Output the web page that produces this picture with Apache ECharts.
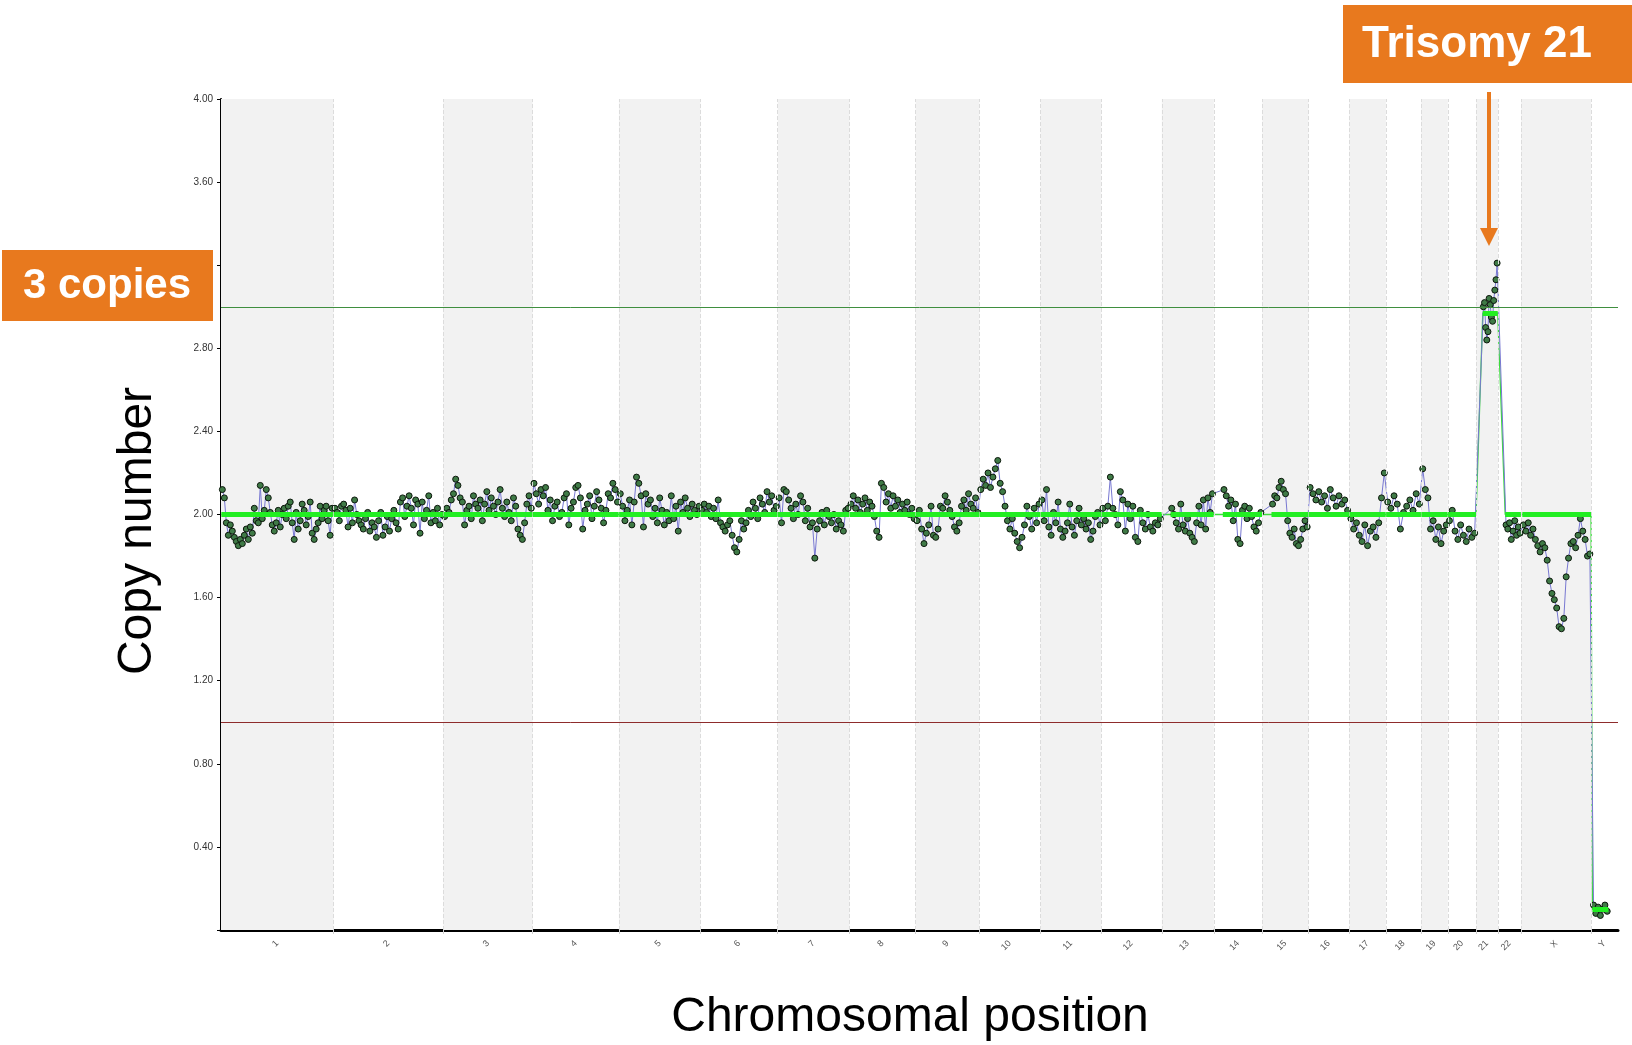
<!DOCTYPE html>
<html>
<head>
<meta charset="utf-8">
<script src="https://cdn.jsdelivr.net/npm/echarts@6/dist/echarts.min.js"></script>
<style>
html, body { margin: 0; padding: 0; background: #fff; }
#main { width: 1632px; height: 1045px; }
</style>
</head>
<body>
<div id="main"></div>
<script>
// chromosomes, lengths in Mb
var chromNames = ['1','2','3','4','5','6','7','8','9','10','11','12','13','14','15','16','17','18','19','20','21','22','X','Y'];
var chromLengths = [249.3,243.2,198.0,191.2,180.9,171.1,159.1,146.4,141.2,135.5,135.0,133.9,115.2,107.3,102.5,90.4,81.2,78.1,59.1,63.0,48.1,51.3,155.3,59.4];
// first / last probe position inside each chromosome (Mb)
var probeStart = [0.8,0.8,0.5,0.5,0.5,0.5,0.5,0.5,0.5,0.5,0.5,0.5,19.5,20.0,20.5,0.5,0.5,0.5,0.5,0.5,14.5,16.0,2.7,2.7];
var probeEnd = [248.5,242.5,197.5,190.7,180.4,170.6,158.6,145.9,140.7,135.0,134.5,133.4,114.7,106.8,102.0,89.9,80.7,77.6,58.6,62.5,47.5,50.8,155.0,38.0];
// segmented copy number per chromosome
var segmentCN = [2,2,2,2,2,2,2,2,2,2,2,2,2,2,2,2,2,2,2,2,2.97,2,2,0.1];
// reference lines
var threeCopies = 3;
var oneCopy = 1;

// probe copy-number values, left to right
var chr1 = [2.12,2.08,1.96,1.90,1.95,1.92,1.89,1.87,1.85,1.88,1.86,1.90,1.93,1.88,1.94,1.91,2.03,1.97,1.96,2.14,1.98,2.02,2.12,2.08,2.01,1.95,1.92,1.96,2.02,1.94,2.00,2.03,1.98,2.04,2.06,1.96,1.88,2.01,1.93,1.97,2.05,2.02,1.95,1.99,2.06,1.91,1.88,1.93,1.96,2.04,1.98,2.02,2.04,1.97,1.90,2.03];
var chr2 = [2.03,2.01,1.97,2.04,2.05,2.02,1.94,2.03,1.96,2.07,2.00,1.97,1.95,1.93,1.98,2.01,1.92,1.96,1.94,1.89,1.97,2.01,1.90,1.94,1.99,1.92,1.98,2.02,1.96,1.93,2.06,2.08,1.99,2.04,2.09,2.03,1.95,2.07,2.05,1.91,2.06,1.98,2.02,2.09,1.96,2.01,1.97,2.03,1.95,2.00];
var chr3 = [1.99,2.03,2.01,2.07,2.10,2.17,2.14,2.08,2.06,1.95,2.02,2.04,1.98,2.09,2.05,2.03,2.07,1.97,2.05,2.11,2.02,2.08,2.04,2.00,2.06,2.12,2.03,1.99,2.06,2.01,1.97,2.08,2.04,1.93,1.90,1.88,1.96,2.05,2.09,2.03];
var chr4 = [2.15,2.10,2.05,2.12,2.09,2.13,2.02,2.07,1.97,2.04,2.06,1.99,2.01,2.08,2.10,1.95,2.03,2.06,2.13,2.14,2.08,1.93,2.02,2.05,2.09,1.98,2.04,2.11,2.07,2.03,1.96,2.02,2.10,2.08,2.15,2.12,2.06];
var chr5 = [2.10,2.04,1.97,2.02,2.07,1.95,2.06,2.18,2.15,2.09,1.94,2.10,2.05,2.07,1.99,2.03,1.96,2.08,2.02,1.95,2.01,1.97,2.09,1.98,2.04,1.92,2.06,2.01,2.08,2.03,1.99,2.05,2.02,2.00,2.04];
var chr6 = [2.02,2.05,2.01,2.04,1.99,2.03,1.98,2.07,1.96,1.94,1.92,1.95,1.97,1.90,1.84,1.82,1.88,1.97,1.93,1.96,2.02,1.99,2.06,2.03,1.98,2.08,2.05,2.01,2.11,2.06,2.09,2.02,2.04];
var chr7 = [2.08,1.96,2.12,2.11,2.07,2.03,1.98,2.05,2.00,2.09,2.06,1.97,2.03,1.94,1.96,1.79,1.93,1.97,2.01,1.95,2.02,1.99,1.96,2.00,1.93,1.97,1.95,1.92,2.02,2.03];
var chr8 = [2.05,2.09,2.03,2.07,2.01,2.05,2.08,2.02,2.06,2.04,1.99,1.92,1.89,2.15,2.13,2.06,2.10,2.03,2.09,2.04,2.07,2.01,2.05,2.02,2.06,2.00,2.03,1.98];
var chr9 = [1.97,2.02,1.93,1.86,1.91,1.95,2.04,1.90,1.89,1.93,2.04,2.03,2.09,2.06,2.02,1.99,1.94,1.92,1.96,2.04,2.07,2.02,2.10,2.05,2.03,2.08,2.01];
var chr10 = [2.12,2.17,2.14,2.20,2.13,2.18,2.22,2.26,2.15,2.11,2.04,1.97,1.93,1.98,1.91,1.87,1.84,1.89,1.95,2.04,1.99,1.93,2.03,1.96,2.05];
var chr11 = [2.07,1.97,2.12,1.94,1.90,2.01,1.96,2.06,1.93,1.89,1.92,1.96,2.05,1.94,1.90,1.97,2.03,1.95,1.98,1.93,1.96,1.88,1.92,1.99,2.01,1.95];
var chr12 = [2.03,1.97,2.04,2.18,2.03,2.00,1.95,2.11,2.07,1.92,2.05,1.98,2.04,1.89,1.87,2.02,1.96,1.93,2.00,1.94,1.92,1.96,1.95,1.98];
var chr13 = [2.03,2.00,1.96,1.93,2.05,1.95,1.92,1.98,1.91,1.89,1.87,1.96,2.04,1.95,2.07,1.93,2.08,2.01,2.10];
var chr14 = [2.12,2.09,2.04,2.07,1.97,2.05,1.88,1.86,2.02,2.04,1.98,2.03,1.99,1.94,1.92,1.96,2.01];
var chr15 = [2.05,2.09,2.08,2.13,2.16,2.12,2.10,1.97,1.91,1.89,1.93,1.86,1.85,1.88,1.93,1.97,1.94];
var chr16 = [2.13,2.10,2.07,2.11,2.06,2.09,2.03,2.12,2.08,2.04,2.09,2.05,2.07,2.02];
var chr17 = [1.98,1.93,1.96,1.90,1.87,1.95,1.85,1.92,1.94,1.89,1.96,2.08,2.20];
var chr18 = [2.06,2.03,2.09,2.05,1.93,2.01,2.04,2.07,2.02,2.10,2.05];
var chr19 = [2.22,2.12,2.08,1.93,1.97,1.88,1.94,1.86,1.92,1.95];
var chr20 = [1.97,2.02,1.92,1.88,1.95,1.90,1.87,1.93,1.89,1.91];
var chr21 = [3.00,3.02,2.90,2.84,2.88,3.04,3.01,2.95,2.93,3.03,3.08,3.13,3.21];
var chr22 = [1.95,1.93,1.96,1.88,1.92,1.97,1.90,1.94,1.91];
var chrX = [1.95,1.92,1.96,1.90,1.93,1.88,1.85,1.82,1.86,1.84,1.78,1.68,1.62,1.59,1.55,1.46,1.45,1.50,1.70,1.79,1.86,1.87,1.84,1.90,1.98,1.92,1.88,1.80,1.81];
var chrY = [0.12,0.08,0.11,0.07,0.10,0.12,0.09];
var chromData = [chr1,chr2,chr3,chr4,chr5,chr6,chr7,chr8,chr9,chr10,chr11,chr12,chr13,chr14,chr15,chr16,chr17,chr18,chr19,chr20,chr21,chr22,chrX,chrY];

// genome offsets
var chromStart = [], total = 0;
chromLengths.forEach(function (l) { chromStart.push(total); total += l; });
var centers = chromStart.map(function (s, i) { return s + chromLengths[i] / 2; });
var boundaries = chromStart.slice(1);

// probes spread over each chromosome's covered range
var probes = [];
chromData.forEach(function (vals, c) {
  var a = chromStart[c] + probeStart[c], b = chromStart[c] + probeEnd[c];
  vals.forEach(function (v, i) {
    probes.push([a + (i + 0.5) / vals.length * (b - a), v]);
  });
});

var segPath = [], segLines = [];
segmentCN.forEach(function (cn, c) {
  var a = chromStart[c] + probeStart[c], b = chromStart[c] + probeEnd[c];
  segPath.push([a, cn], [b, cn]);
  segLines.push([{ coord: [a, cn] }, { coord: [b, cn] }]);
});

var bands = [];
chromStart.forEach(function (s, i) {
  if (i % 2 === 0) bands.push([{ xAxis: s }, { xAxis: s + chromLengths[i] }]);
});

var FONT = '"Liberation Sans", Arial, sans-serif';
var ORANGE = '#E8791E';

var chart = echarts.init(document.getElementById('main'));
chart.setOption({
  animation: false,
  backgroundColor: '#ffffff',
  grid: { left: 221, right: 14, top: 99, bottom: 115 },
  xAxis: {
    type: 'value', min: 0, max: total,
    axisLine: { show: true, lineStyle: { color: '#000', width: 3 } },
    axisTick: { show: true, customValues: boundaries, length: 4, lineStyle: { color: '#cfcfcf' } },
    axisLabel: {
      customValues: centers, rotate: 45, fontSize: 9, color: '#555', fontFamily: FONT, margin: 12,
      formatter: function (v) {
        var best = 0;
        centers.forEach(function (c, i) { if (Math.abs(c - v) < Math.abs(centers[best] - v)) best = i; });
        return chromNames[best];
      }
    },
    splitLine: { show: false }
  },
  yAxis: {
    type: 'value', min: 0, max: 4, interval: 0.4,
    axisLine: { show: true, lineStyle: { color: '#000', width: 2 } },
    axisTick: { show: true, length: 4, lineStyle: { color: '#000' } },
    axisLabel: {
      fontSize: 10, color: '#333', fontFamily: FONT, margin: 8,
      formatter: function (v) { return v === 0 ? '' : v.toFixed(2); }
    },
    splitLine: { show: false }
  },
  series: [
    {
      name: 'background', type: 'line', data: [], z: 1, silent: true,
      markArea: { silent: true, itemStyle: { color: '#f2f2f2' }, data: bands },
      markLine: {
        silent: true, symbol: ['none', 'none'], label: { show: false },
        data: boundaries.map(function (b) {
          return { xAxis: b, lineStyle: { color: '#dcdcdc', type: 'dashed', width: 1 } };
        }).concat([
          { yAxis: threeCopies, lineStyle: { color: '#3f8f3f', type: 'solid', width: 1 } },
          { yAxis: oneCopy, lineStyle: { color: '#8e2c2c', type: 'solid', width: 1 } }
        ])
      }
    },
    {
      name: 'segment path', type: 'line', data: segPath, z: 2, silent: true,
      showSymbol: false, lineStyle: { color: '#3ddc3d', width: 1.3 }
    },
    {
      name: 'probes', type: 'line', data: probes, z: 3, silent: true,
      symbol: 'circle', symbolSize: 6, showSymbol: true,
      lineStyle: { color: '#7878d2', width: 1 },
      itemStyle: { color: '#3f7a46', borderColor: '#0c170c', borderWidth: 1 }
    },
    {
      name: 'segments', type: 'line', data: [], z: 4, silent: true,
      markLine: {
        silent: true, symbol: ['none', 'none'], label: { show: false },
        lineStyle: { color: '#22ee22', width: 5, type: 'solid' },
        data: segLines
      }
    }
  ],
  graphic: [
    {
      type: 'text', x: 138, y: 531, rotation: Math.PI / 2, z: 100,
      style: { text: 'Copy number', font: '48px ' + FONT, fill: '#000', textAlign: 'center', textVerticalAlign: 'middle' }
    },
    {
      type: 'text', x: 910, y: 1018, z: 100,
      style: { text: 'Chromosomal position', font: '48px ' + FONT, fill: '#000', textAlign: 'center', textVerticalAlign: 'middle' }
    },
    { type: 'rect', z: 100, shape: { x: 2, y: 250, width: 211, height: 71 }, style: { fill: ORANGE } },
    {
      type: 'text', x: 107, y: 286, z: 101,
      style: { text: '3 copies', font: 'bold 42px ' + FONT, fill: '#fff', textAlign: 'center', textVerticalAlign: 'middle' }
    },
    { type: 'rect', z: 100, shape: { x: 1343, y: 5, width: 289, height: 78 }, style: { fill: ORANGE } },
    {
      type: 'text', x: 1477, y: 45, z: 101,
      style: { text: 'Trisomy 21', font: 'bold 44px ' + FONT, fill: '#fff', textAlign: 'center', textVerticalAlign: 'middle' }
    },
    { type: 'line', z: 100, shape: { x1: 1489, y1: 92, x2: 1489, y2: 232 }, style: { stroke: ORANGE, lineWidth: 4 } },
    { type: 'polygon', z: 100, shape: { points: [[1480, 228], [1498, 228], [1489, 246]] }, style: { fill: ORANGE } }
  ]
});
</script>
</body>
</html>
